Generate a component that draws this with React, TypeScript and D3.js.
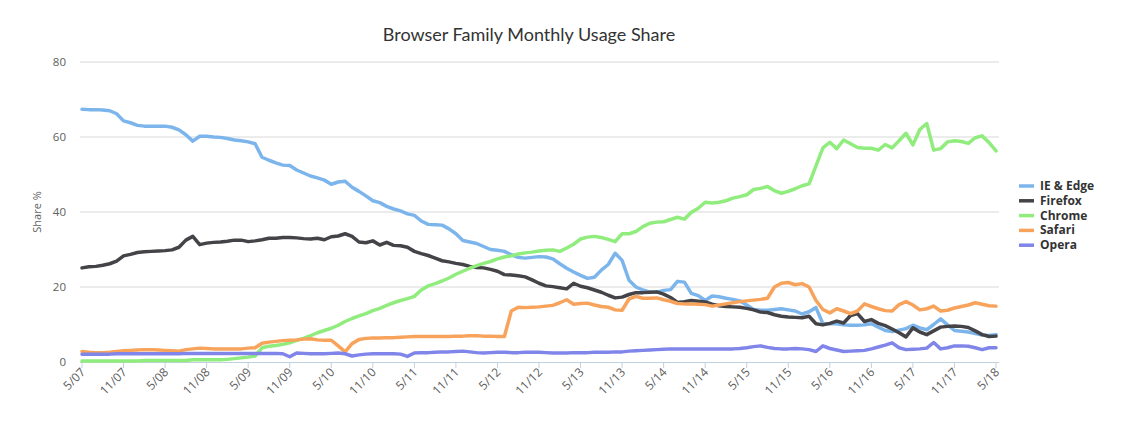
import React from "react";
import * as d3 from "d3";

const seriesNames = ["IE & Edge", "Firefox", "Chrome", "Safari", "Opera"];
const seriesColors = ["#7cb5ec", "#434348", "#90ed7d", "#f7a35c", "#8085e9"];

const tickLabels = [
  "5/07", "11/07", "5/08", "11/08", "5/09", "11/09", "5/10", "11/10", "5/11", "11/11",
  "5/12", "11/12", "5/13", "11/13", "5/14", "11/14", "5/15", "11/15", "5/16", "11/16",
  "5/17", "11/17", "5/18",
];
const yTicks = [0, 20, 40, 60, 80];

// Monthly values, May 2007 .. May 2018
const ieEdge = [
  67.4, 67.3, 67.3, 67.2, 67.0, 66.2, 64.3, 63.8, 63.1, 62.9,
  62.9, 62.9, 62.9, 62.6, 61.9, 60.6, 58.9, 60.2, 60.2, 60.0,
  59.9, 59.6, 59.2, 59.0, 58.7, 58.2, 54.6, 53.8, 53.1, 52.5,
  52.4, 51.2, 50.4, 49.6, 49.1, 48.5, 47.4, 48.0, 48.2, 46.6,
  45.5, 44.3, 43.0, 42.5, 41.5, 40.8, 40.3, 39.5, 39.1, 37.6,
  36.7, 36.6, 36.5, 35.5, 34.2, 32.4, 32.0, 31.6, 30.8, 30.0,
  29.8, 29.5, 28.6, 27.9, 27.7, 27.9, 28.1, 28.0, 27.5, 26.2,
  25.0, 24.0, 23.1, 22.3, 22.6, 24.5, 26.0, 29.0, 27.1, 21.8,
  20.0, 19.2, 18.6, 18.6, 19.1, 19.3, 21.5, 21.3, 18.3, 17.7,
  16.4, 17.6, 17.4, 17.0, 16.7, 16.3, 15.2, 14.0, 13.8, 13.8,
  14.0, 14.2, 13.9, 13.6, 12.8, 13.4, 14.5, 10.2, 10.2, 10.2,
  9.9, 9.8, 9.8, 9.9, 10.2, 9.3, 8.4, 8.1, 8.5, 8.9,
  9.8, 9.1, 8.6, 10.0, 11.5, 9.9, 8.4, 8.2, 8.0, 7.6,
  7.2, 7.1, 7.3,
];
const firefox = [
  25.1, 25.4, 25.5, 25.8, 26.2, 26.9, 28.3, 28.7, 29.2, 29.4,
  29.5, 29.6, 29.7, 29.9, 30.6, 32.5, 33.5, 31.3, 31.7, 31.9,
  32.0, 32.2, 32.5, 32.5, 32.1, 32.3, 32.6, 33.0, 33.0, 33.2,
  33.2, 33.1, 32.9, 32.8, 33.0, 32.6, 33.4, 33.6, 34.2, 33.5,
  32.0, 31.8, 32.3, 31.2, 31.9, 31.1, 31.0, 30.6, 29.5, 28.9,
  28.4, 27.7, 27.0, 26.7, 26.3, 26.0, 25.5, 25.2, 25.1, 24.7,
  24.2, 23.3, 23.2, 23.0, 22.7, 21.9, 21.0, 20.3, 20.1, 19.8,
  19.5, 21.0, 20.2, 19.8, 19.2, 18.6, 17.8, 17.1, 17.3, 18.0,
  18.5, 18.5, 18.6, 18.7, 18.1, 17.2, 15.9, 16.1, 16.4, 16.2,
  16.0, 15.4, 15.0, 14.8, 14.7, 14.6, 14.3, 13.9, 13.3, 13.2,
  12.6, 12.2, 12.0, 11.9, 11.8, 12.2, 10.2, 9.9, 10.3, 10.9,
  10.4, 12.4, 12.9, 10.8, 11.3, 10.3, 9.7, 8.8, 7.8, 6.7,
  9.1, 8.0, 7.3, 8.3, 9.3, 9.5, 9.6, 9.5, 9.2, 8.3,
  7.3, 6.8, 6.9,
];
const chrome = [
  0.3, 0.3, 0.3, 0.3, 0.3, 0.3, 0.3, 0.3, 0.3, 0.4,
  0.4, 0.4, 0.4, 0.4, 0.4, 0.4, 0.6, 0.6, 0.6, 0.6,
  0.6, 0.7, 0.9, 1.1, 1.3, 1.6, 3.8, 4.2, 4.4, 4.7,
  5.1, 5.8, 6.3, 7.0, 7.8, 8.4, 9.0, 9.8, 10.8, 11.6,
  12.3, 12.9, 13.7, 14.3, 15.1, 15.8, 16.4, 16.9, 17.5, 19.2,
  20.3, 20.9, 21.6, 22.4, 23.4, 24.2, 25.0, 25.7, 26.3, 26.8,
  27.5, 28.0, 28.3, 28.8, 29.1, 29.3, 29.6, 29.8, 29.9, 29.5,
  30.4, 31.4, 32.8, 33.3, 33.5, 33.2, 32.7, 32.1, 34.2, 34.2,
  34.8, 36.1, 37.0, 37.3, 37.4, 38.0, 38.6, 38.1, 39.9, 41.0,
  42.6, 42.4, 42.6, 43.0, 43.7, 44.1, 44.6, 46.0, 46.3, 46.8,
  45.7, 45.0, 45.5, 46.2, 47.0, 47.5, 52.3, 57.1, 58.6, 56.9,
  59.2, 58.2, 57.2, 57.0, 57.0, 56.5, 58.0, 57.1, 59.0, 61.0,
  57.9, 62.0, 63.6, 56.5, 56.9, 58.7, 59.0, 58.8, 58.3, 59.8,
  60.3, 58.5, 56.3,
];
const safari = [
  2.8, 2.6, 2.5, 2.5, 2.6, 2.8, 3.0, 3.1, 3.2, 3.3,
  3.3, 3.2, 3.1, 3.0, 2.9, 3.3, 3.5, 3.7, 3.6, 3.5,
  3.5, 3.5, 3.5, 3.5, 3.7, 3.8, 5.0, 5.3, 5.5, 5.7,
  5.8, 5.9, 6.1, 6.2, 5.9, 5.8, 5.8, 4.3, 2.7, 4.9,
  6.0, 6.3, 6.4, 6.4, 6.5, 6.5, 6.6, 6.7, 6.8, 6.8,
  6.8, 6.8, 6.8, 6.8, 6.9, 6.9, 7.0, 7.0, 6.9, 6.9,
  6.8, 6.8, 13.6, 14.6, 14.5, 14.6, 14.7, 14.9, 15.1, 15.8,
  16.6, 15.4, 15.6, 15.7, 15.2, 14.8, 14.6, 13.9, 13.8, 16.8,
  17.5, 17.0, 17.0, 17.1, 16.6, 16.2, 15.6, 15.5, 15.5, 15.4,
  15.3, 14.9, 15.2, 15.5, 15.8, 16.1, 16.3, 16.5, 16.7, 17.0,
  20.0, 21.0, 21.2, 20.6, 20.9, 20.0, 16.4, 14.0, 13.1, 14.2,
  13.6, 12.9, 13.6, 15.5, 14.8, 14.2, 13.7, 13.6, 15.3, 16.1,
  15.2, 13.9, 14.2, 14.9, 13.6, 13.8, 14.4, 14.8, 15.2, 15.8,
  15.4, 15.0, 14.9,
];
const opera = [
  2.1, 2.1, 2.1, 2.1, 2.1, 2.2, 2.2, 2.2, 2.2, 2.2,
  2.2, 2.2, 2.2, 2.2, 2.2, 2.3, 2.3, 2.3, 2.3, 2.3,
  2.3, 2.3, 2.3, 2.3, 2.3, 2.3, 2.3, 2.3, 2.3, 2.2,
  1.4, 2.4, 2.3, 2.2, 2.2, 2.2, 2.3, 2.4, 2.2, 1.6,
  1.9, 2.1, 2.2, 2.2, 2.2, 2.2, 2.1, 1.5, 2.4, 2.5,
  2.5, 2.6, 2.7, 2.7, 2.8, 2.9, 2.7, 2.5, 2.4, 2.5,
  2.6, 2.6, 2.5, 2.5, 2.6, 2.6, 2.6, 2.5, 2.4, 2.4,
  2.4, 2.5, 2.5, 2.5, 2.6, 2.6, 2.6, 2.7, 2.7, 2.9,
  3.0, 3.1, 3.2, 3.3, 3.4, 3.5, 3.5, 3.5, 3.5, 3.5,
  3.5, 3.5, 3.5, 3.5, 3.5, 3.6, 3.8, 4.1, 4.3, 3.9,
  3.6, 3.5, 3.5, 3.6, 3.5, 3.3, 2.8, 4.3, 3.6, 3.2,
  2.8, 2.9, 3.0, 3.1, 3.5, 4.0, 4.5, 5.1, 3.8, 3.3,
  3.4, 3.5, 3.7, 5.2, 3.5, 3.8, 4.3, 4.3, 4.2, 3.8,
  3.3, 3.8, 3.8,
];

const seriesValues = [ieEdge, firefox, chrome, safari, opera];

const W = 1132;
const H = 433;
const margin = { left: 82, right: 996, top: 62, bottom: 362 };

export default function App() {
  const n = ieEdge.length;
  const months = d3.range(n);
  const x = d3.scaleLinear().domain([0, n - 1]).range([margin.left, margin.right]);
  const y = d3.scaleLinear().domain([0, 80]).range([margin.bottom, margin.top]);
  const line = d3
    .line<number>()
    .x((_, i) => x(months[i]))
    .y((d) => y(d));

  const tickIdx = tickLabels.map((_, i) => i * 6);
  const font = "'Lucida Grande', 'Open Sans', 'DejaVu Sans', sans-serif";

  return (
    <svg
      width={W}
      height={H}
      style={{ position: "absolute", left: 0, top: 0, background: "#fff" }}
      fontFamily={font}
    >
      <rect width={W} height={H} fill="#fff" />
      <text
        x={529}
        y={41}
        textAnchor="middle"
        fontSize={18}
        fill="#333"
        fontFamily="Lato, 'Open Sans', sans-serif"
      >
        Browser Family Monthly Usage Share
      </text>
      {yTicks.map((t) => (
        <g key={t}>
          {t > 0 && (
            <line x1={80} x2={999} y1={y(t)} y2={y(t)} stroke="#d8d8d8" strokeWidth={1} />
          )}
          <text x={66} y={y(t) + 4} textAnchor="end" fontSize={11.5} fill="#606060">
            {t}
          </text>
        </g>
      ))}
      <text
        transform={`translate(41,212) rotate(-90)`}
        textAnchor="middle"
        fontSize={11}
        fill="#606060"
      >
        Share %
      </text>
      <line x1={80} x2={999} y1={y(0) + 0.5} y2={y(0) + 0.5} stroke="#c0d0e0" strokeWidth={1} />
      {tickIdx.map((ti, k) => (
        <g key={ti}>
          <line x1={x(ti)} x2={x(ti)} y1={y(0)} y2={y(0) + 6} stroke="#c0d0e0" />
          <text
            transform={`translate(${x(ti) + 4},${y(0) + 11}) rotate(-45)`}
            textAnchor="end"
            fontSize={12}
            fill="#606060"
          >
            {tickLabels[k]}
          </text>
        </g>
      ))}
      {seriesValues.map((vals, si) => (
        <path
          key={si}
          d={line(vals) || ""}
          fill="none"
          stroke={seriesColors[si]}
          strokeWidth={3.5}
          strokeLinejoin="round"
          strokeLinecap="round"
        />
      ))}
      {seriesNames.map((name, si) => (
        <g key={name} transform={`translate(1019,${186 + si * 14.8})`}>
          <line x1={0} x2={15} y1={0} y2={0} stroke={seriesColors[si]} strokeWidth={3.5} />
          <text x={21} y={4} fontSize={12} fontWeight="bold" fill="#333">
            {name}
          </text>
        </g>
      ))}
    </svg>
  );
}
